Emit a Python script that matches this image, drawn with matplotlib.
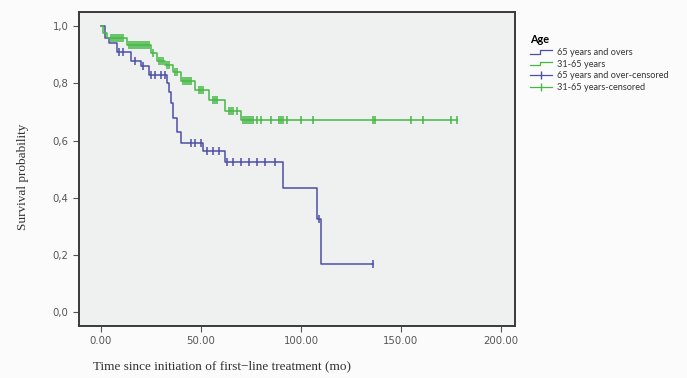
import numpy as np
import matplotlib
matplotlib.use("Agg")
import matplotlib.pyplot as plt
from matplotlib.lines import Line2D
from matplotlib.legend_handler import HandlerBase

# ---- data ----
old_times = [0, 2, 4, 8, 15, 20, 24, 33, 34, 35, 36, 38, 40, 51, 62, 91, 108, 110, 136]
old_surv = [1.0, 0.96, 0.94, 0.91, 0.88, 0.86, 0.83, 0.80, 0.77, 0.73, 0.68, 0.63, 0.59,
            0.565, 0.524, 0.434, 0.325, 0.168, 0.168]
old_censor = [9, 11, 17, 21, 25, 27, 30, 32, 45, 47, 50, 53, 56, 59, 63, 66, 70, 74, 78,
              82, 87, 109, 136]

young_times = [0, 1, 3, 13, 25, 28, 32, 36, 40, 47, 54, 62, 70, 178]
young_surv = [1.0, 0.975, 0.958, 0.934, 0.905, 0.88, 0.864, 0.84, 0.81, 0.776, 0.741,
              0.705, 0.672, 0.672]
young_censor = [5, 6, 7, 8, 9, 10, 11, 14, 15, 16, 17, 18, 19, 20, 21, 22, 23, 24, 26,
                29, 30, 31, 33, 34, 37, 38, 41, 42, 43, 44, 45, 49, 50, 51, 56, 57, 58,
                64, 65, 66, 68, 71, 72, 73, 74, 75, 76, 78, 80, 85, 89, 90, 91, 93, 100,
                106, 136, 137, 155, 161, 175, 178]

x_ticks = [0, 50, 100, 150, 200]
x_ticklabels = ["0.00", "50.00", "100.00", "150.00", "200.00"]
y_ticks = [0.0, 0.2, 0.4, 0.6, 0.8, 1.0]
y_ticklabels = ["0,0", "0,2", "0,4", "0,6", "0,8", "1,0"]

labels = ["65 years and overs", "31-65 years", "65 years and over-censored",
          "31-65 years-censored"]

BLUE = "#4e4ea6"
GREEN = "#45b845"


def surv_at(times, surv, t):
    i = np.searchsorted(times, t, side="right") - 1
    return np.asarray(surv)[i]


fig = plt.figure(figsize=(6.87, 3.78), dpi=100, facecolor="#fbfbfb")
ax = fig.add_axes([79 / 687, 1 - 326 / 378, (515 - 79) / 687, (326 - 12) / 378])
ax.set_facecolor("#eff1f1")

ax.step(old_times, old_surv, where="post", color=BLUE, lw=1.1)
ax.step(young_times, young_surv, where="post", color=GREEN, lw=1.1)
ax.plot(old_censor, surv_at(old_times, old_surv, old_censor), ls="none", marker="|",
        ms=5.5, mew=1.1, color=BLUE)
ax.plot(young_censor, surv_at(young_times, young_surv, young_censor), ls="none",
        marker="|", ms=5.5, mew=1.1, color=GREEN)

ax.set_xlim(-11, 207)
ax.set_ylim(-0.049, 1.05)
ax.set_xticks(x_ticks)
ax.set_xticklabels(x_ticklabels)
ax.set_yticks(y_ticks)
ax.set_yticklabels(y_ticklabels)
ax.tick_params(axis="both", direction="out", length=4, width=0.8, color="#555555",
               labelsize=7.3, labelcolor="#555555")
for s in ax.spines.values():
    s.set_color("#3a3a3a")
    s.set_linewidth(1.4)

fig.text(23 / 687, 1 - 177 / 378, "Survival probability", rotation=90, ha="center",
         va="center", family="Liberation Serif", fontsize=9.5, color="#333333")
fig.text(93 / 687, 1 - 366 / 378, "Time since initiation of first\u2212line treatment (mo)",
         ha="left", va="center", family="Liberation Serif", fontsize=9.5, color="#333333")


class HandlerStep(HandlerBase):
    def create_artists(self, legend, orig_handle, xdescent, ydescent, width, height,
                       fontsize, trans):
        x0 = -xdescent
        y0 = -ydescent + height * 0.2
        y1 = -ydescent + height * 0.8
        xs = [x0, x0 + width * 0.45, x0 + width * 0.45, x0 + width]
        ys = [y0, y0, y1, y1]
        ln = Line2D(xs, ys, color=orig_handle.get_color(), lw=0.9, transform=trans)
        return [ln]


h1 = Line2D([], [], color=BLUE)
h2 = Line2D([], [], color=GREEN)
h3 = Line2D([], [], color=BLUE, lw=0.9, marker="|", ms=6, mew=1.0)
h4 = Line2D([], [], color=GREEN, lw=0.9, marker="|", ms=6, mew=1.0)
leg = fig.legend([h1, h2, h3, h4], labels, loc="upper left",
                 bbox_to_anchor=(522 / 687, 1 - 26 / 378), frameon=False,
                 title="Age", alignment="left",
                 handler_map={h1: HandlerStep(), h2: HandlerStep()},
                 handlelength=2.4, handletextpad=0.5, labelspacing=0.3,
                 prop={"family": "Lato", "size": 6.6})
leg.get_title().set_fontweight("bold")
leg.get_title().set_fontsize(7.8)
leg.get_title().set_family("Lato")
for t in leg.get_texts():
    t.set_color("#333333")

fig.savefig("out.png", dpi=100, facecolor=fig.get_facecolor())
